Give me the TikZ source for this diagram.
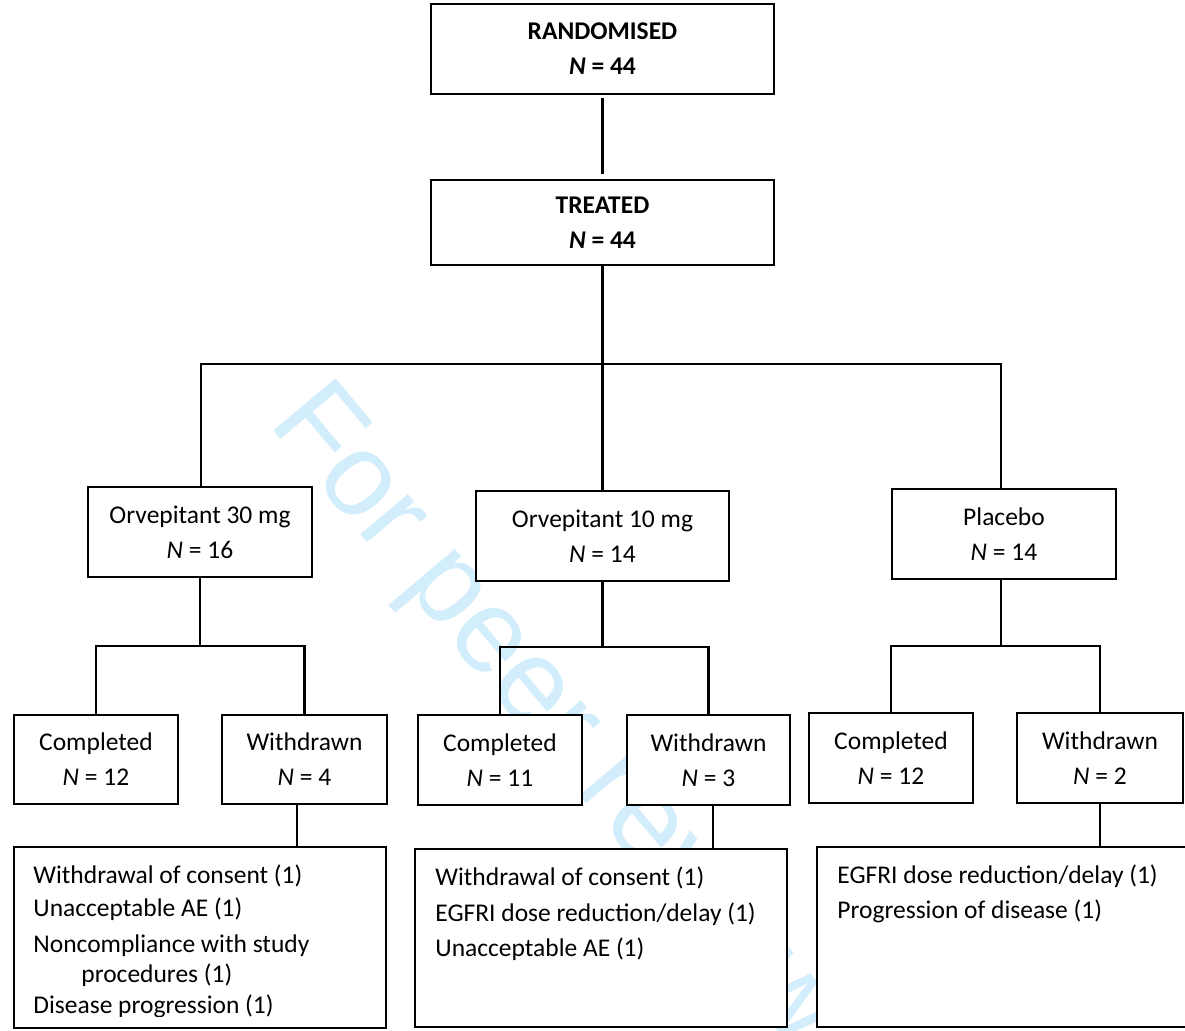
\documentclass[tikz,border=0pt]{standalone}
\usepackage{fontspec}
\setmainfont{Carlito}
\newfontfamily\wmfont{Liberation Sans}
\definecolor{wmblue}{RGB}{210,237,251}
\begin{document}
\begin{tikzpicture}[x=0.5pt,y=-0.5pt,
  box/.style={draw, line width=1.05pt, fill=white, inner sep=0pt, align=center,
              font=\fontsize{12.75}{17.5}\selectfont},
  conn/.style={line width=1.05pt},
  rtext/.style={anchor=base west, inner sep=0pt, font=\fontsize{12.75}{17.5}\selectfont},
  wm/.style={anchor=base west, inner sep=0pt, text=wmblue,
             font=\wmfont\fontsize{59}{59}\selectfont}]
\useasboundingbox (0,0) rectangle (1185,1031);
\clip (0,0) rectangle (1185,1031);
\fill[white] (0,0) rectangle (1185,1031);
% watermark
\node[wm, rotate=-50] (wmark) at (267,423) {For peer review only};
% top boxes
\node[box, minimum width=171.5pt, minimum height=45pt] (rand) at (602.5,49)
  {\textbf{RANDOMISED}\\\textbf{\textit{N} = 44}};
\node[box, minimum width=171.5pt, minimum height=42.5pt] (treat) at (602.5,222.5)
  {\textbf{TREATED}\\\textbf{\textit{N} = 44}};
% arms
\node[box, minimum width=112pt, minimum height=45pt] (o30) at (200,532)
  {Orvepitant 30 mg\\\textit{N} = 16};
\node[box, minimum width=126.5pt, minimum height=45pt] (o10) at (602.5,536)
  {Orvepitant 10 mg\\\textit{N} = 14};
\node[box, minimum width=112pt, minimum height=45pt] (plac) at (1004,534)
  {Placebo\\\textit{N} = 14};
% outcomes
\node[box, minimum width=82pt, minimum height=44.5pt] (c1) at (96,759.5)
  {Completed\\\textit{N} = 12};
\node[box, minimum width=82.5pt, minimum height=44.5pt] (w1) at (304.5,759.5)
  {Withdrawn\\\textit{N} = 4};
\node[box, minimum width=81.75pt, minimum height=45pt] (c2) at (500,760)
  {Completed\\\textit{N} = 11};
\node[box, minimum width=81.5pt, minimum height=45pt] (w2) at (708.5,760)
  {Withdrawn\\\textit{N} = 3};
\node[box, minimum width=82pt, minimum height=45pt] (c3) at (891,758)
  {Completed\\\textit{N} = 12};
\node[box, minimum width=83pt, minimum height=45pt] (w3) at (1100,758)
  {Withdrawn\\\textit{N} = 2};
% reason boxes
\node[box, minimum width=186pt, minimum height=90.5pt] (r1) at (200,937.5) {};
\node[box, minimum width=186pt, minimum height=89pt] (r2) at (601,938) {};
\node[box, minimum width=201.5pt, minimum height=90pt] (r3) at (1018.5,937) {};
% reason texts
\begin{scope}
\clip (15,848) rectangle (385,1017);
\node[rtext] (r1a) at (33,884) {Withdrawal of consent (1)};
\node[rtext] (r1b) at (33,917) {Unacceptable AE (1)};
\node[rtext] (r1c) at (33,953) {Noncompliance with study};
\node[rtext] (r1d) at (81,983) {procedures (1)};
\node[rtext] (r1e) at (33,1014) {Disease progression (1)};
\end{scope}
\node[rtext] (r2a) at (435,886) {Withdrawal of consent (1)};
\node[rtext] (r2b) at (435,922) {EGFRI dose reduction/delay (1)};
\node[rtext] (r2c) at (435,957) {Unacceptable AE (1)};
\node[rtext] (r3a) at (837,884) {EGFRI dose reduction/delay (1)};
\node[rtext] (r3b) at (837,919) {Progression of disease (1)};
% connectors
\draw[conn, shorten <=1.5pt, shorten >=2.5pt] (rand.south) -- (treat.north);
\coordinate (busL) at (201,364);
\coordinate (busR) at (1001,364);
\draw[conn] (treat.south) -- (treat.south |- busL);
\draw[conn] (busL |- o30.north) -- (busL) -- (busR) -- (busR |- plac.north);
\draw[conn] (treat.south |- busL) -- (o10.north);
\coordinate (b1) at (0,646);
\coordinate (b2) at (0,647);
\coordinate (b3) at (0,646);
\draw[conn] (o30.south) -- (o30.south |- b1);
\draw[conn] (c1.north) -- (c1.north |- b1) -- (w1.north |- b1) -- (w1.north);
\draw[conn] (o10.south) -- (o10.south |- b2);
\draw[conn] (c2.north) -- (c2.north |- b2) -- (w2.north |- b2) -- (w2.north);
\draw[conn] (busR |- plac.south) -- (busR |- b3);
\draw[conn] (c3.north) -- (c3.north |- b3) -- (w3.north |- b3) -- (w3.north);
\coordinate (x1) at (297,0);
\coordinate (x2) at (713,0);
\coordinate (x3) at (1100,0);
\draw[conn] (x1 |- w1.south) -- (x1 |- r1.north);
\draw[conn] (x2 |- w2.south) -- (x2 |- r2.north);
\draw[conn] (x3 |- w3.south) -- (x3 |- r3.north);
\end{tikzpicture}
\end{document}
